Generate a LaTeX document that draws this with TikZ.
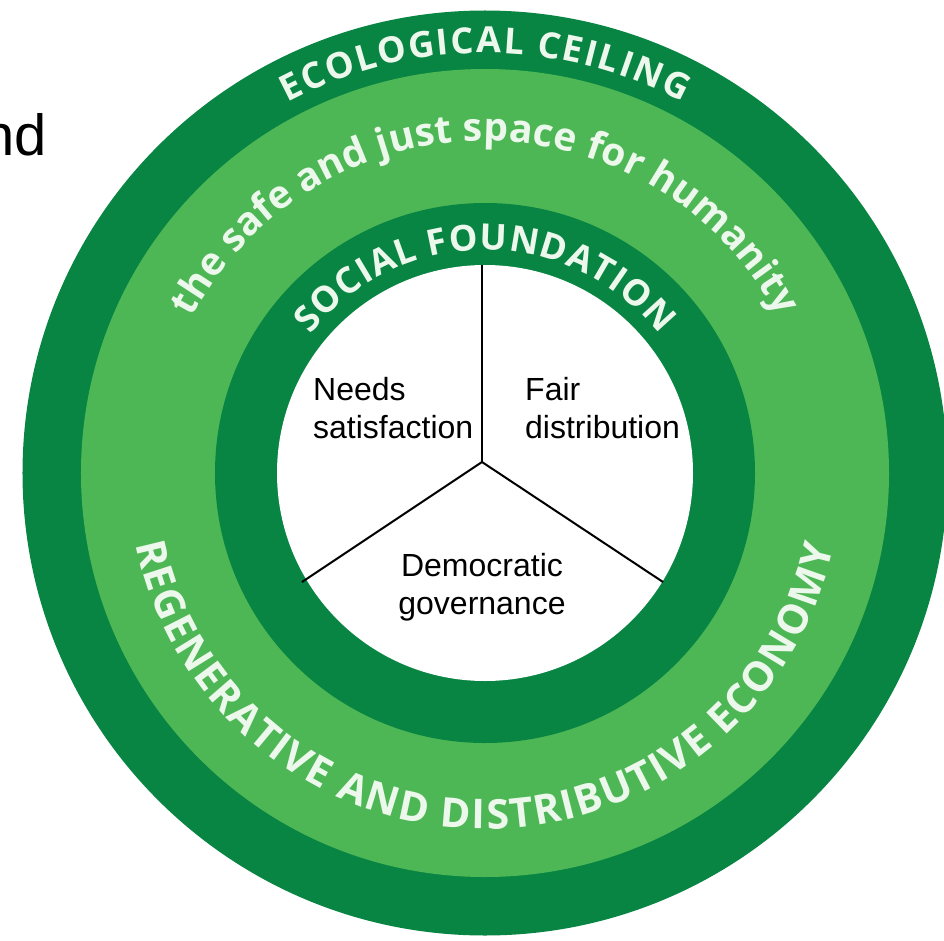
\documentclass[tikz,border=0pt]{standalone}
\usepackage{fontspec}
\usetikzlibrary{decorations.text}
\newfontfamily\ringfont{Open Sans}
\newfontfamily\labelfont{Liberation Sans}
\definecolor{darkgreen}{RGB}{8,133,67}
\definecolor{lightgreen}{RGB}{78,183,85}
\definecolor{ringtxt}{RGB}{236,248,236}
\begin{document}
\begin{tikzpicture}[x=1pt,y=1pt,
  ringtext/.style 2 args={decorate, decoration={text along path, text align=fit to path, text color=ringtxt, text={|\ringfont\bfseries\fontsize{#1}{#1}\selectfont|#2}}},
  label/.style={font=\labelfont\fontsize{32}{38}\selectfont, inner sep=0pt, align=left, text=black},
  divider/.style={line width=2pt, black}
]
\useasboundingbox (-485,-467) rectangle (459,473);
% rings
\fill[darkgreen] (0,0) circle[radius=462.5pt];
\fill[lightgreen] (0,0) circle[radius=404pt];
\fill[darkgreen] (0,0) circle[radius=270pt];
\fill[white] (0,0) circle[radius=208pt];
% ring texts
\path[ringtext={36}{ECOLOGICAL CEILING}] (118:420pt) arc[start angle=118, end angle=62, radius=420pt];
\path[ringtext={39}{the safe and just space for humanity}] (152:332pt) arc[start angle=152, end angle=28, radius=332pt];
\path[ringtext={36}{SOCIAL FOUNDATION}] (141.5:223pt) arc[start angle=141.5, end angle=38.5, radius=223pt];
\path[ringtext={41}{REGENERATIVE AND DISTRIBUTIVE ECONOMY}] (191.5:356pt) arc[start angle=191.5, end angle=348, radius=356pt];
% dividers
\coordinate (hub) at (-3,11);
\coordinate (topend) at (-3,208);
\coordinate (leftend) at (-183,-109);
\coordinate (rightend) at (178,-109);
\draw[divider] (topend) -- (hub);
\draw[divider] (hub) -- (leftend);
\draw[divider] (hub) -- (rightend);
% labels (anchor = baseline of last line)
\node[label, anchor=base west] (needs) at (-172,35) {Needs\\satisfaction};
\node[label, anchor=base west] (fair) at (40,35) {Fair\\distribution};
\node[label, anchor=base, align=center] (demo) at (-3,-141) {Democratic\\governance};
% cut-off text
\node[font=\labelfont\fontsize{58}{58}\selectfont, inner sep=0pt, anchor=base west] (nd) at (-503,317) {nd};
\end{tikzpicture}
\end{document}
